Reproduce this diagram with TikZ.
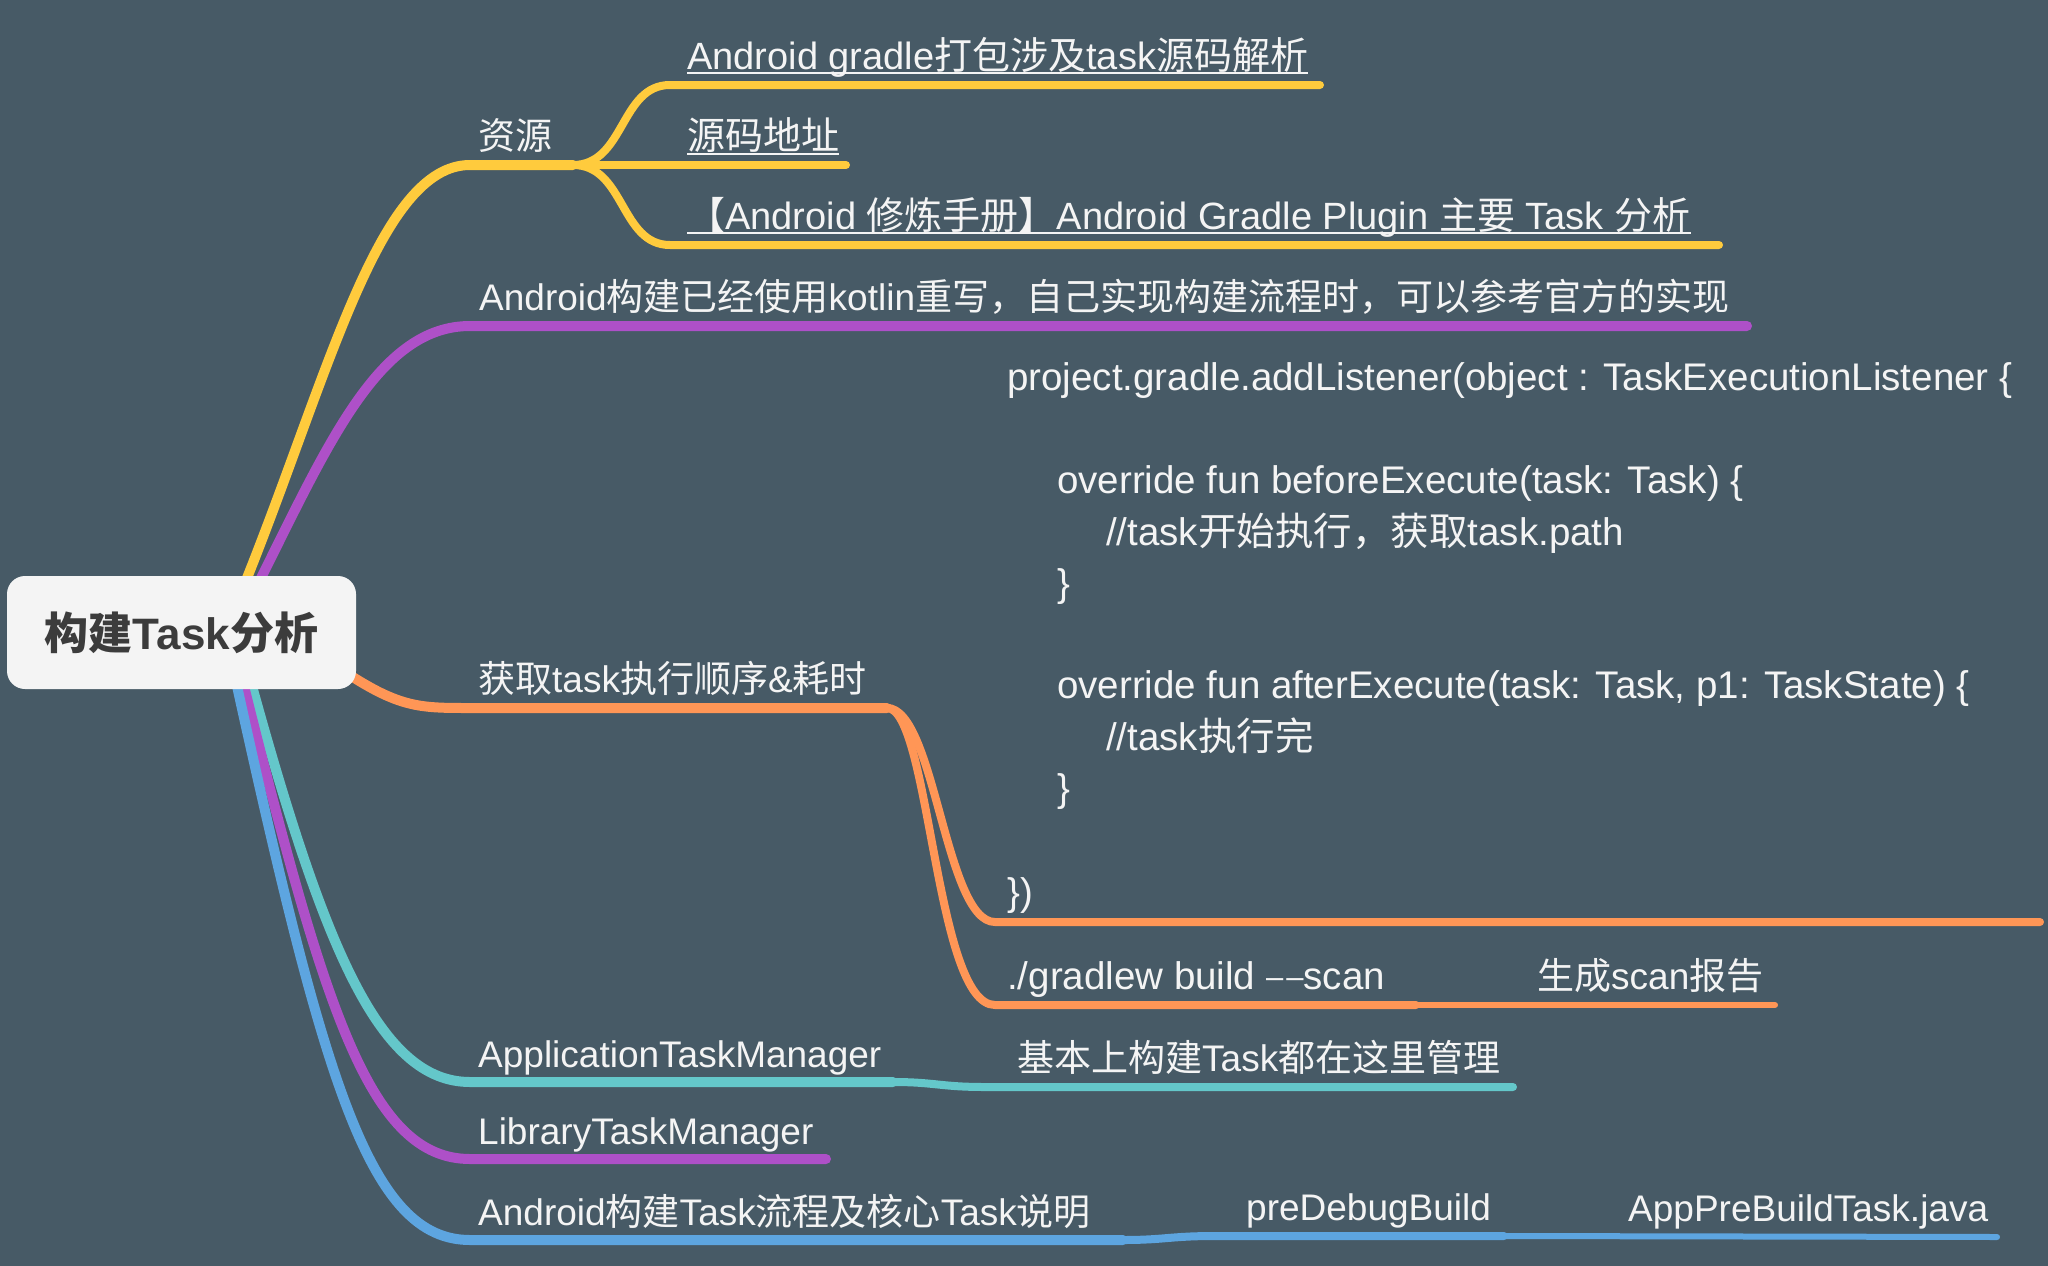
\documentclass[tikz,border=0pt]{standalone}
\usepackage{fontspec}
\setmainfont{Liberation Sans}
\newfontfamily\cjk{Noto Sans CJK SC}
\definecolor{bgc}{HTML}{475A66}
\definecolor{ycol}{HTML}{FFCB3D}
\definecolor{pcol}{HTML}{AE50C8}
\definecolor{ocol}{HTML}{FF9656}
\definecolor{tcol}{HTML}{64C7CA}
\definecolor{bcol}{HTML}{5DA5E0}
\definecolor{rootfill}{HTML}{F4F4F4}
\definecolor{roottext}{HTML}{3C3C3C}
\definecolor{txtc}{HTML}{F4F4F4}
\begin{document}
\begin{tikzpicture}[x=1pt,y=-1pt,
  txt/.style={anchor=base west, inner sep=0pt, text=txtc, font=\fontsize{37}{44}\selectfont},
  linktxt/.style={anchor=base west, inner sep=0pt, text=txtc, font=\fontsize{38}{45}\selectfont},
  codetxt/.style={anchor=base west, inner sep=0pt, text=txtc, font=\fontsize{38.5}{46}\selectfont},
  mainline/.style={line width=10pt, line cap=round},
  subline/.style={line width=8pt, line cap=round},
  leafline/.style={line width=6pt, line cap=round},
  ulline/.style={draw=txtc, line width=2.2pt},
  rootbox/.style={fill=rootfill, rounded corners=18pt, minimum width=349pt, minimum height=113pt,
    inner sep=0pt, text=roottext, font=\fontsize{44}{52}\selectfont\bfseries}
]
\fill[bgc] (0,0) rectangle (2048,1266);
\useasboundingbox (0,0) rectangle (2048,1266);

% ---------- junction coordinates ----------
\coordinate (sY) at (247,578);
\coordinate (sP) at (261,578);
\coordinate (sO) at (345,672);
\coordinate (sT) at (252,686);
\coordinate (sL) at (244,686);
\coordinate (sB) at (237,686);
\coordinate (jY) at (573,165);
\coordinate (eY1) at (1320,85);
\coordinate (eY2) at (846,165);
\coordinate (eY3) at (1719,245);
\coordinate (eP) at (1747,326);
\coordinate (jO) at (887,708);
\coordinate (eO1) at (2040,922);
\coordinate (jO2) at (1416,1005);
\coordinate (eO2) at (1775,1005);
\coordinate (jT) at (893,1082);
\coordinate (eT) at (1513,1087);
\coordinate (eL) at (826,1159);
\coordinate (jB) at (1123,1240);
\coordinate (jB2) at (1504,1236);
\coordinate (eB) at (1997,1237);

% ---------- branches ----------
% yellow
\draw[mainline,ycol] (sY) .. controls (330,370) and (380,165) .. (470,165) -- (jY);
\draw[subline,ycol] (jY) .. controls (625,165) and (620,85) .. (670,85) -- (eY1);
\draw[subline,ycol] (jY) -- (eY2);
\draw[subline,ycol] (jY) .. controls (625,165) and (620,245) .. (670,245) -- (eY3);
% purple
\draw[mainline,pcol] (sP) .. controls (330,440) and (380,326) .. (470,326) -- (eP);
% orange
\draw[mainline,ocol] (sO) .. controls (400,708) and (420,708) .. (470,708) -- (jO);
\draw[subline,ocol] (jO) .. controls (935,708) and (945,922) .. (995,922) -- (eO1);
\draw[subline,ocol] (jO) .. controls (930,708) and (935,1005) .. (995,1005) -- (jO2);
\draw[leafline,ocol] (jO2) -- (eO2);
% teal
\draw[mainline,tcol] (sT) .. controls (325,950) and (380,1082) .. (470,1082) -- (jT);
\draw[subline,tcol] (jT) .. controls (935,1082) and (940,1087) .. (985,1087) -- (eT);
% purple 2
\draw[mainline,pcol] (sL) .. controls (325,1010) and (370,1159) .. (470,1159) -- (eL);
% blue
\draw[mainline,bcol] (sB) .. controls (325,1085) and (370,1240) .. (470,1240) -- (jB);
\draw[subline,bcol] (jB) .. controls (1165,1240) and (1170,1236) .. (1215,1236) -- (jB2);
\draw[leafline,bcol] (jB2) -- (eB);

% ---------- root ----------
\node[rootbox] (root) at (181.5,632.5) {{\cjk 构建}Task{\cjk 分析}};

% ---------- texts ----------
\node[txt] (ziyuan) at (478,149) {\cjk 资源};
\node[linktxt] (link1) at (687,69) {Android gradle{\cjk 打包涉及}task{\cjk 源码解析}};
\node[linktxt] (link2) at (687,149) {\cjk 源码地址};
\node[linktxt] (link3) at (687,229) {{\cjk 【}Android {\cjk 修炼手册】}Android Gradle Plugin {\cjk 主要} Task {\cjk 分析}};
\draw[ulline] ([yshift=-4pt]link1.base west) -- ([yshift=-4pt]link1.base east);
\draw[ulline] ([yshift=-5pt]link2.base west) -- ([yshift=-5pt]link2.base east);
\draw[ulline] ([yshift=-4pt]link3.base west) -- ([yshift=-4pt]link3.base east);

\node[txt] (kotlin) at (479,310) {Android{\cjk 构建已经使用}kotlin{\cjk 重写，自己实现构建流程时，可以参考官方的实现}};

\node[txt] (order) at (478,692) {{\cjk 获取}task{\cjk 执行顺序}\&{\cjk 耗时}};

\node[codetxt] (code1) at (1007,390) {project.gradle.addListener(object : TaskExecutionListener \{};
\node[codetxt] (code2) at (1057,493) {override fun beforeExecute(task: Task) \{};
\node[codetxt] (code3) at (1106,545) {//task{\cjk 开始执行，获取}task.path};
\node[codetxt] (code4) at (1057,596) {\}};
\node[codetxt] (code5) at (1057,698) {override fun afterExecute(task: Task, p1: TaskState) \{};
\node[codetxt] (code6) at (1106,750) {//task{\cjk 执行完}};
\node[codetxt] (code7) at (1057,801) {\}};
\node[codetxt] (code8) at (1007,905) {\})};

\node[codetxt] (gradlew) at (1007,989) {./gradlew build {\fontsize{31}{31}\selectfont\raisebox{2pt}{\textendash\kern3pt\textendash}}scan};
\node[txt] (scan) at (1537,989) {{\cjk 生成}scan{\cjk 报告}};

\node[txt] (apptm) at (478,1067) {ApplicationTaskManager};
\node[txt] (apptmnote) at (1017,1071) {{\cjk 基本上构建}Task{\cjk 都在这里管理}};

\node[txt] (libtm) at (478,1144) {LibraryTaskManager};

\node[txt] (flow) at (478,1225) {Android{\cjk 构建}Task{\cjk 流程及核心}Task{\cjk 说明}};
\node[txt] (predebug) at (1246,1220) {preDebugBuild};
\node[txt] (apppre) at (1628,1221) {AppPreBuildTask.java};
\end{tikzpicture}
\end{document}
